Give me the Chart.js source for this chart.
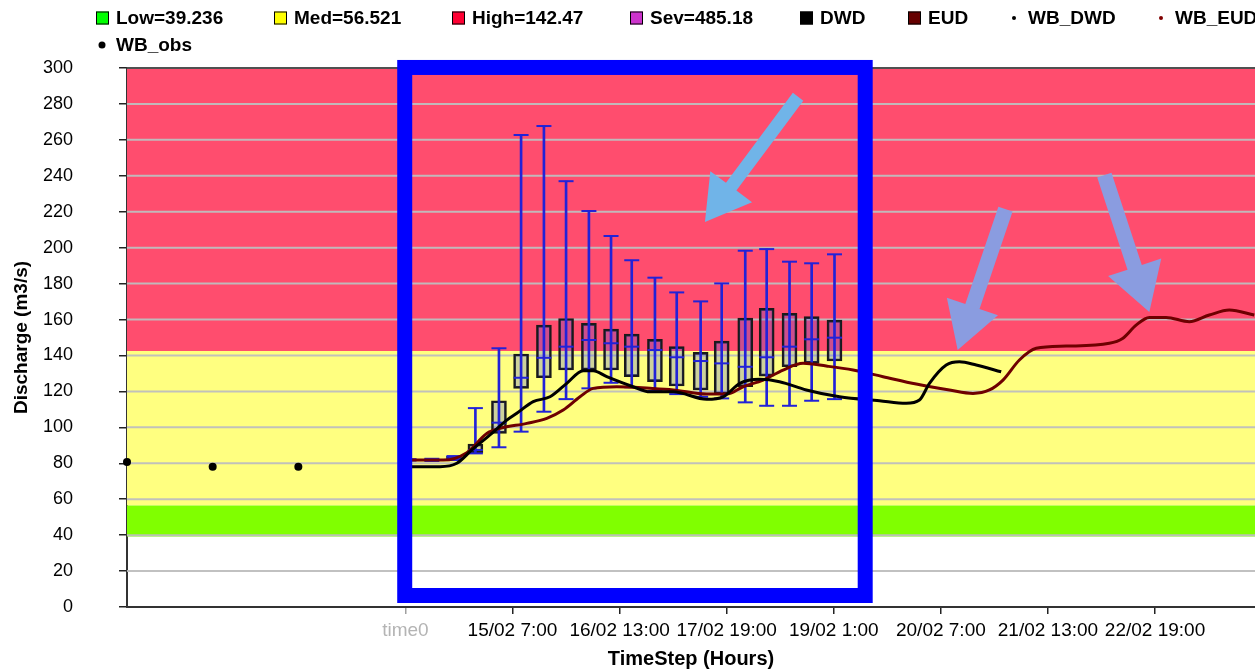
<!DOCTYPE html>
<html><head><meta charset="utf-8">
<script src="https://cdn.jsdelivr.net/npm/chart.js@4.4.1/dist/chart.umd.min.js"></script>
<style>html,body{margin:0;padding:0;background:#fff;overflow:hidden}</style>
</head><body>
<canvas id="c" width="1255" height="669"></canvas>
<script>
// ---- data ----
const thresholdNames = ['Low', 'Med', 'High', 'Sev'];
const thresholdValues = [39.236, 56.521, 142.47, 485.18];
const tickHours = [0, 30, 60, 90, 120, 150, 180, 210];
const tickLabels = ['time0', '15/02 7:00', '16/02 13:00', '17/02 19:00', '19/02 1:00', '20/02 7:00', '21/02 13:00', '22/02 19:00'];

const obsHours = [-78, -54, -30];
const obsValues = [80.7, 78.0, 78.0];

const dwdHours = [0, 1.8, 9.7, 14.4, 18.6, 24.2, 28.4, 31.2, 35.8, 40.5, 45.2, 49.8, 52.6, 56.4, 63.8, 68.5, 75.0, 84.4, 89.0, 93.7, 99.2, 104.8, 112.3, 121.6, 132.8, 140.3, 144.0, 146.8, 151.5, 155.2, 159.9, 166.9];
const dwdValues = [79.0, 78.1, 78.1, 80.0, 87.4, 96.6, 104.0, 107.8, 114.3, 117.0, 124.5, 131.5, 131.5, 128.2, 122.6, 119.8, 119.8, 115.6, 117.0, 124.5, 126.7, 125.4, 120.8, 117.0, 114.8, 113.4, 115.2, 124.5, 134.7, 136.5, 134.7, 130.9];

const eudHours = [0, 1.8, 10.6, 17.2, 22.8, 26.5, 34.0, 39.6, 44.2, 48.9, 52.6, 59.2, 68.5, 75.0, 84.4, 90.0, 94.6, 100.2, 105.8, 111.4, 117.9, 125.4, 133.8, 143.1, 152.4, 159.0, 163.6, 167.4, 172.0, 176.7, 185.1, 197.2, 200.9, 204.7, 208.4, 213.1, 219.6, 225.2, 230.8, 237.8];
const eudValues = [82.4, 81.8, 81.8, 85.9, 96.6, 99.4, 102.2, 105.0, 109.6, 117.0, 121.7, 122.6, 121.7, 120.8, 118.5, 118.5, 122.6, 126.3, 131.9, 135.6, 134.1, 131.9, 128.2, 124.1, 120.8, 118.9, 120.8, 126.3, 137.5, 144.0, 145.2, 146.8, 149.5, 156.9, 161.2, 161.2, 158.8, 162.5, 165.3, 162.5];

const boxHours = [1.0, 7.4, 13.6, 19.6, 26.2, 32.4, 38.8, 45.0, 51.4, 57.6, 63.4, 69.9, 76.0, 82.7, 88.6, 95.2, 101.2, 107.6, 113.8, 120.2];
const boxQ1  = [81.6, 81.5, 82.0, 85.7, 96.6, 121.7, 127.6, 131.9, 131.9, 131.9, 128.2, 125.4, 123.0, 120.8, 118.5, 122.6, 128.5, 133.7, 135.6, 136.9];
const boxQ3  = [82.2, 82.3, 83.8, 90.7, 114.8, 140.8, 156.9, 160.6, 157.9, 154.7, 151.9, 149.0, 144.9, 141.7, 148.0, 160.8, 166.2, 163.4, 161.6, 159.7];
const boxMed = [81.9, 81.9, 82.8, 87.4, 102.6, 127.6, 138.7, 144.9, 148.6, 146.8, 144.9, 143.0, 139.0, 136.9, 135.6, 133.7, 139.0, 144.9, 149.0, 149.9];
const boxMin = [81.5, 81.3, 81.8, 85.5, 88.9, 97.6, 108.7, 115.7, 121.7, 124.8, 122.3, 120.2, 118.5, 117.0, 116.1, 113.9, 112.0, 112.0, 114.8, 115.7];
const boxMax = [82.3, 82.5, 84.0, 110.7, 144.0, 262.7, 267.7, 237.0, 220.4, 206.5, 193.0, 183.3, 175.1, 170.1, 180.1, 198.3, 199.2, 192.2, 191.3, 196.3];

// ---- styling / layout ----
const FONT = '"Liberation Sans", Arial, Helvetica, sans-serif';
const BLUE = '#2222d8';
const xMin = -78, xMax = 238;
const bandColors = ['#80ff00', '#ffff80', '#ff4d6e', '#e060e0'];
const swatchColors = ['#00ff00', '#ffff00', '#ff0033', '#cc33cc'];
const bandTops = [thresholdValues[1], thresholdValues[2], thresholdValues[3], 1000];

// annotations in data coordinates
const highlightBox = { h1: -0.2, h2: 128.8, v1: 6.4, v2: 300.3, width: 15, color: '#0000ff' };
const arrows = [
  { h1: 110.0, v1: 284.0, h2: 83.9, v2: 214.3, shaft: 13, head: 44, headW: 52, color: '#70b4e8' },
  { h1: 168.1, v1: 221.5, h2: 154.7, v2: 143.0, shaft: 15, head: 46, headW: 54, color: '#8a9ce0' },
  { h1: 195.8, v1: 240.4, h2: 208.4, v2: 164.2, shaft: 15, head: 47, headW: 56, color: '#8a9ce0' }
];

const datasets = [];
thresholdNames.forEach((n, i) => {
  datasets.push({
    type: 'line', label: n + '=' + thresholdValues[i],
    data: [{ x: xMin, y: bandTops[i] }, { x: xMax, y: bandTops[i] }],
    fill: { value: thresholdValues[i] }, backgroundColor: bandColors[i],
    borderWidth: 0, pointRadius: 0, order: 10, swatch: swatchColors[i], legendKind: 'box'
  });
});
datasets.push({
  type: 'bar', label: 'box', data: boxHours.map((h, i) => ({ x: h, y: [boxQ1[i], boxQ3[i]] })),
  backgroundColor: 'rgba(60,80,230,0.26)', borderColor: '#1a1a1a', borderWidth: 2,
  borderSkipped: false, barThickness: 15, grouped: false, order: 5
});
datasets.push({
  type: 'bar', label: 'whisker', data: boxHours.map((h, i) => ({ x: h, y: [boxMin[i], boxMax[i]] })),
  backgroundColor: BLUE, borderWidth: 0, barThickness: 2, grouped: false, order: 4
});
datasets.push({
  type: 'line', label: 'caps', showLine: false,
  data: boxHours.map((h, i) => ({ x: h, y: boxMin[i] })).concat(boxHours.map((h, i) => ({ x: h, y: boxMax[i] }))),
  pointStyle: 'line', pointRadius: 7.5, pointBorderColor: BLUE, pointBorderWidth: 2, order: 4
});
datasets.push({
  type: 'line', label: 'median', showLine: false,
  data: boxHours.map((h, i) => ({ x: h, y: boxMed[i] })),
  pointStyle: 'line', pointRadius: 7.5, pointBorderColor: BLUE, pointBorderWidth: 2, order: 4
});
datasets.push({
  type: 'line', label: 'DWD', data: dwdHours.map((h, i) => ({ x: h, y: dwdValues[i] })),
  borderColor: '#000000', borderWidth: 3, pointRadius: 0, cubicInterpolationMode: 'monotone',
  fill: false, order: 2, swatch: '#000000', legendKind: 'box'
});
datasets.push({
  type: 'line', label: 'EUD', data: eudHours.map((h, i) => ({ x: h, y: eudValues[i] })),
  borderColor: '#6e0000', borderWidth: 3, pointRadius: 0, cubicInterpolationMode: 'monotone',
  fill: false, order: 2, swatch: '#660000', legendKind: 'box'
});
datasets.push({ type: 'line', label: 'WB_DWD', data: [], showLine: false, pointRadius: 2, pointBackgroundColor: '#000', order: 1, swatch: '#000000', legendKind: 'dot', dotR: 2 });
datasets.push({ type: 'line', label: 'WB_EUD', data: [], showLine: false, pointRadius: 2, pointBackgroundColor: '#6e0000', order: 1, swatch: '#800000', legendKind: 'dot', dotR: 2 });
datasets.push({
  type: 'line', label: 'WB_obs', data: obsHours.map((h, i) => ({ x: h, y: obsValues[i] })),
  showLine: false, pointRadius: 4, pointBackgroundColor: '#000', pointBorderColor: '#000', pointBorderWidth: 0,
  clip: false, order: 0, swatch: '#000000', legendKind: 'dot', dotR: 3.5
});

// legend layout (pixels)
const legendRows = [
  { y: 18, xs: [96, 274, 452, 630, 800, 908, 1008, 1155] },
  { y: 45, xs: [96] }
];

const gridPlugin = {
  id: 'bandGrid',
  afterDatasetDraw(chart, args) {
    if (args.index !== 0) return;
    const ctx = chart.ctx, ys = chart.scales.y, a = chart.chartArea;
    ctx.save();
    ys.ticks.forEach(t => {
      if (t.value === 0) return;
      const py = ys.getPixelForValue(t.value);
      ctx.beginPath();
      ctx.lineWidth = 2;
      ctx.strokeStyle = t.value === 300 ? '#505050' : 'rgba(190,190,190,0.95)';
      ctx.moveTo(a.left, py); ctx.lineTo(a.right, py); ctx.stroke();
    });
    ctx.restore();
  }
};

function drawArrow(ctx, x1, y1, x2, y2, shaft, headLen, headW) {
  const dx = x2 - x1, dy = y2 - y1, L = Math.hypot(dx, dy), ux = dx / L, uy = dy / L, px = -uy, py = ux;
  const bx = x2 - ux * headLen, by = y2 - uy * headLen;
  ctx.beginPath();
  ctx.moveTo(x1 + px * shaft / 2, y1 + py * shaft / 2);
  ctx.lineTo(bx + px * shaft / 2, by + py * shaft / 2);
  ctx.lineTo(bx + px * headW / 2, by + py * headW / 2);
  ctx.lineTo(x2, y2);
  ctx.lineTo(bx - px * headW / 2, by - py * headW / 2);
  ctx.lineTo(bx - px * shaft / 2, by - py * shaft / 2);
  ctx.lineTo(x1 - px * shaft / 2, y1 - py * shaft / 2);
  ctx.closePath();
  ctx.fill();
}

const annotPlugin = {
  id: 'annot',
  afterDraw(chart) {
    const ctx = chart.ctx, xs = chart.scales.x, ys = chart.scales.y;
    ctx.save();
    const b = highlightBox;
    const X1 = xs.getPixelForValue(b.h1), X2 = xs.getPixelForValue(b.h2);
    const Y1 = ys.getPixelForValue(b.v2), Y2 = ys.getPixelForValue(b.v1);
    ctx.strokeStyle = b.color; ctx.lineWidth = b.width;
    ctx.strokeRect(X1, Y1, X2 - X1, Y2 - Y1);
    arrows.forEach(ar => {
      ctx.fillStyle = ar.color;
      drawArrow(ctx, xs.getPixelForValue(ar.h1), ys.getPixelForValue(ar.v1),
        xs.getPixelForValue(ar.h2), ys.getPixelForValue(ar.v2), ar.shaft, ar.head, ar.headW);
    });
    ctx.restore();
  }
};

const legendPlugin = {
  id: 'customLegend',
  afterDraw(chart) {
    const ctx = chart.ctx;
    const items = chart.data.datasets.filter(d => d.legendKind);
    const order = ['Low', 'Med', 'High', 'Sev', 'DWD', 'EUD', 'WB_DWD', 'WB_EUD', 'WB_obs'];
    const sorted = order.map(k => items.find(d => d.label.split('=')[0] === k));
    ctx.save();
    ctx.font = 'bold 19px ' + FONT;
    ctx.textBaseline = 'middle';
    ctx.textAlign = 'left';
    let idx = 0;
    legendRows.forEach(row => {
      row.xs.forEach(x => {
        const d = sorted[idx++];
        if (!d) return;
        if (d.legendKind === 'box') {
          ctx.fillStyle = d.swatch;
          ctx.fillRect(x, row.y - 6.5, 13, 13);
          ctx.strokeStyle = '#000'; ctx.lineWidth = 1;
          ctx.strokeRect(x + 0.5, row.y - 6, 12, 12);
        } else {
          ctx.fillStyle = d.swatch;
          ctx.beginPath(); ctx.arc(x + 6, row.y, d.dotR, 0, Math.PI * 2); ctx.fill();
        }
        ctx.fillStyle = '#000';
        ctx.fillText(d.label, x + 20, row.y + 1);
      });
    });
    ctx.restore();
  }
};

new Chart(document.getElementById('c'), {
  type: 'line',
  data: { datasets },
  plugins: [gridPlugin, annotPlugin, legendPlugin],
  options: {
    responsive: false, animation: false, events: [],
    layout: { autoPadding: false, padding: { top: 68, left: 0, right: 0, bottom: 0 } },
    plugins: { legend: { display: false }, tooltip: { enabled: false } },
    scales: {
      x: {
        type: 'linear', min: xMin, max: xMax, offset: false,
        afterBuildTicks: s => { s.ticks = tickHours.map(v => ({ value: v })); },
        afterFit: s => { s.height = 62; s.paddingLeft = 0; s.paddingRight = 0; },
        ticks: {
          autoSkip: false, maxRotation: 0, padding: 5,
          callback: v => { const k = tickHours.indexOf(v); return k >= 0 ? tickLabels[k] : ''; },
          font: { size: 19, family: FONT },
          color: c => (c.tick && c.tick.value === 0) ? '#b4b4b4' : '#000'
        },
        grid: { drawOnChartArea: false, offset: false, tickLength: 7, lineWidth: 1.5,
          color: c => (c.tick && c.tick.value === 0) ? '#a0a0a0' : '#222' },
        border: { color: '#333', width: 2 },
        title: { display: true, text: 'TimeStep (Hours)', color: '#000',
          font: { size: 20, weight: 'bold', family: FONT, lineHeight: 1 }, padding: { top: 0, bottom: 0 } }
      },
      y: {
        type: 'linear', min: 0, max: 300,
        afterFit: s => { s.width = 127; s.paddingTop = 0; s.paddingBottom = 0; },
        ticks: { stepSize: 20, padding: 46, font: { size: 18, family: FONT }, color: '#000' },
        grid: { drawOnChartArea: false, tickLength: 8, lineWidth: 1.5, color: '#222' },
        border: { color: '#333', width: 2 },
        title: { display: true, text: 'Discharge (m3/s)', color: '#000',
          font: { size: 19, weight: 'bold', family: FONT }, padding: { top: 10.6, bottom: 0 } }
      }
    }
  }
});
</script>
</body></html>
